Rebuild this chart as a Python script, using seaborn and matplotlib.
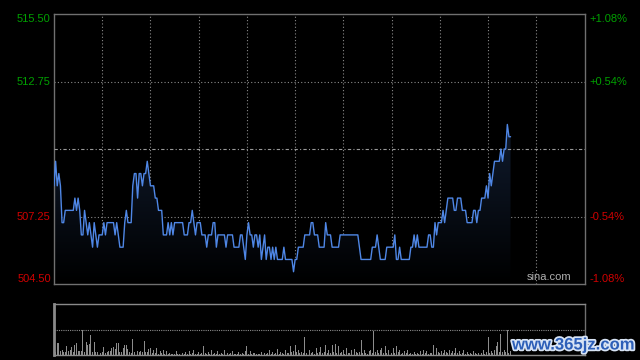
import numpy as np
import pandas as pd
import matplotlib
matplotlib.use('Agg')
import matplotlib.pyplot as plt
import matplotlib.patheffects as pe
from matplotlib.colors import LinearSegmentedColormap
import seaborn as sns

# minute-by-minute price (HK session, 330 minutes, data up to minute 284)
prices = [
    508.5, 509.5, 508.5, 509.0, 508.5, 507.0, 507.0, 507.5, 507.5, 507.5,
    507.5, 507.5, 507.5, 508.0, 507.5, 508.0, 507.5, 506.5, 506.5, 507.5,
    507.0, 506.5, 507.0, 506.5, 506.0, 507.0, 506.5, 506.0, 506.5, 506.5,
    506.5, 507.0, 506.5, 507.0, 507.0, 507.0, 507.0, 507.0, 506.5, 507.0,
    506.5, 506.0, 506.0, 506.0, 507.0, 507.5, 507.0, 507.0, 507.0, 508.5,
    509.0, 509.0, 508.0, 509.0, 509.0, 508.5, 509.0, 509.0, 509.5, 509.0,
    508.5, 508.5, 508.5, 508.0, 508.0, 507.5, 507.5, 507.5, 506.5, 506.5,
    506.5, 507.0, 506.5, 507.0, 506.5, 507.0, 507.0, 507.0, 507.0, 507.0,
    507.0, 506.5, 506.5, 506.5, 507.0, 507.0, 507.5, 507.0, 506.5, 507.0,
    507.0, 507.0, 506.5, 506.5, 506.5, 506.0, 506.5, 506.5, 506.5, 507.0,
    507.0, 506.0, 506.5, 506.5, 506.5, 506.5, 506.5, 506.0, 506.5, 506.5,
    506.5, 506.5, 506.0, 506.0, 506.0, 506.0, 506.5, 506.5, 506.0, 505.5,
    506.5, 507.0, 506.5, 506.5, 506.0, 506.5, 506.5, 506.0, 506.5, 505.5,
    506.0, 506.5, 505.5, 506.0, 506.0, 505.5, 506.0, 505.5, 506.0, 505.5,
    505.5, 505.5, 505.5, 506.0, 505.5, 505.5, 505.5, 505.5, 505.5, 505.0,
    505.5, 505.5, 506.0, 506.0, 506.0, 506.0, 506.5, 506.5, 506.5, 506.5,
    507.0, 507.0, 506.5, 506.5, 506.5, 506.0, 506.0, 506.0, 506.0, 507.0,
    506.5, 506.5, 506.5, 506.0, 506.0, 506.0, 506.0, 506.0, 506.5, 506.5,
    506.5, 506.5, 506.5, 506.5, 506.5, 506.5, 506.5, 506.5, 506.5, 506.5,
    506.0, 505.5, 505.5, 505.5, 505.5, 505.5, 505.5, 505.5, 506.0, 506.0,
    506.0, 506.5, 506.0, 505.5, 505.5, 505.5, 505.5, 506.0, 506.0, 506.0,
    506.0, 506.0, 506.5, 505.5, 505.5, 506.0, 505.5, 505.5, 505.5, 505.5,
    505.5, 505.5, 506.0, 506.0, 506.5, 506.0, 506.5, 506.0, 506.0, 506.0,
    506.0, 506.0, 506.0, 506.5, 506.5, 506.0, 506.0, 507.0, 506.5, 507.0,
    507.0, 507.0, 507.5, 507.0, 507.5, 508.0, 508.0, 508.0, 508.0, 507.5,
    507.5, 508.0, 508.0, 508.0, 507.5, 507.5, 507.5, 507.0, 507.0, 507.0,
    507.0, 507.5, 507.5, 507.0, 507.5, 507.5, 508.0, 508.0, 508.0, 508.5,
    508.0, 509.0, 508.5, 509.0, 509.5, 509.5, 509.5, 509.5, 510.0, 509.5,
    510.0, 510.0, 511.0, 510.5, 510.5,
]

volumes = [
    15, 10, 49, 49, 17, 20, 13, 10, 36, 17,
    20, 33, 12, 40, 47, 16, 17, 16, 100, 13,
    53, 40, 43, 80, 12, 52, 12, 12, 12, 8,
    12, 33, 8, 13, 17, 17, 27, 31, 23, 49,
    47, 13, 12, 26, 39, 40, 25, 11, 8, 64,
    13, 11, 15, 12, 14, 13, 56, 11, 10, 23,
    27, 8, 21, 6, 27, 5, 14, 6, 18, 5,
    14, 4, 6, 3, 5, 4, 14, 3, 5, 4,
    8, 3, 10, 5, 14, 4, 6, 18, 5, 4,
    10, 5, 8, 36, 6, 4, 12, 5, 18, 4,
    8, 5, 14, 3, 6, 4, 21, 5, 8, 4,
    6, 14, 3, 5, 4, 10, 4, 6, 3, 14,
    34, 5, 14, 4, 6, 8, 4, 5, 3, 13,
    5, 8, 4, 6, 18, 5, 10, 4, 8, 23,
    5, 12, 6, 4, 18, 6, 8, 34, 10, 14,
    39, 12, 21, 8, 10, 6, 71, 8, 23, 18,
    6, 10, 5, 27, 8, 12, 30, 6, 10, 40,
    8, 18, 6, 40, 12, 44, 6, 34, 8, 10,
    18, 5, 27, 8, 6, 21, 5, 23, 10, 6,
    12, 60, 8, 21, 6, 5, 14, 18, 8, 96,
    10, 21, 6, 18, 27, 8, 34, 6, 18, 27,
    8, 27, 6, 34, 10, 21, 5, 8, 17, 6,
    18, 5, 8, 4, 10, 5, 6, 4, 14, 5,
    21, 6, 14, 5, 8, 6, 39, 8, 27, 10,
    6, 14, 8, 21, 10, 6, 21, 8, 14, 6,
    27, 8, 14, 5, 6, 21, 5, 10, 4, 6,
    5, 14, 6, 4, 8, 27, 6, 18, 5, 10,
    73, 8, 14, 6, 21, 34, 53, 10, 83, 12,
    18, 10, 100, 8, 14,
]

prev_close = 510.0
price_ticks = [515.50, 512.75, 507.25, 504.50]
pct_labels = ['+1.08%', '+0.54%', '-0.54%', '-1.08%']
session_minutes = 330

df = pd.DataFrame({'minute': np.arange(len(prices)), 'price': prices, 'volume': volumes})

sns.set_theme(style='dark', rc={
    'figure.facecolor': 'black', 'axes.facecolor': 'black',
    'axes.edgecolor': '#707070', 'axes.linewidth': 1.0,
})
plt.rcParams['font.family'] = ['Liberation Sans', 'DejaVu Sans']

fig = plt.figure(figsize=(6.4, 3.6), dpi=100)
ax = fig.add_axes([54 / 640, 1 - 284 / 360, 530.5 / 640, 270 / 360])
axv = fig.add_axes([54 / 640, 1 - 355 / 360, 530.5 / 640, 51 / 360])

# price line with dark gradient fill
sns.lineplot(data=df, x='minute', y='price', ax=ax, color='#4f87e6', lw=1.0, zorder=4)
ymin, ymax = price_ticks[-1], price_ticks[0]
poly = ax.fill_between(df['minute'], df['price'], ymin, color='none', lw=0)
cmap = LinearSegmentedColormap.from_list('g', ['#000000', '#101b2e'])
grad = ax.imshow(np.linspace(0, 1, 100).reshape(-1, 1), cmap=cmap, aspect='auto',
                 origin='lower', extent=[0, len(prices) - 1, ymin, max(prices)], zorder=2)
grad.set_clip_path(poly.get_paths()[0], transform=ax.transData)

ax.set_xlim(0, session_minutes)
ax.set_ylim(ymin, ymax)
for m in range(30, session_minutes, 30):
    ax.axvline(m, color='#8a8a8a', lw=0.8, ls=(0, (1, 2)), zorder=1)
for v in price_ticks[1:3]:
    ax.axhline(v, color='#8a8a8a', lw=0.8, ls=(0, (1, 2)), zorder=1)
ax.axhline(prev_close, color='#9a9a9a', lw=0.8, ls=(0, (3, 2, 1, 2)), zorder=3)
ax.set_xticks([])
ax.set_yticks([])
ax.set_xlabel('')
ax.set_ylabel('')

vas = ['top', 'center', 'center', 'bottom']
for v, pl, va in zip(price_ticks, pct_labels, vas):
    col = '#00a000' if v > prev_close else '#d00000'
    ax.text(-0.006, v, f'{v:.2f}', transform=ax.get_yaxis_transform(), ha='right',
            va=va, color=col, fontsize=8)
    ax.text(1.010, v, pl, transform=ax.get_yaxis_transform(), ha='left',
            va=va, color=col, fontsize=8)
ax.text(0.975, 504.6, 'sina.com', transform=ax.get_yaxis_transform(), ha='right',
        va='bottom', color='#b0b0b0', fontsize=8)

# volume panel
axv.bar(df['minute'], df['volume'], width=0.6, color='#8c8c8c', linewidth=0)
axv.set_xlim(0, session_minutes)
axv.set_ylim(0, 202)
axv.axhline(100, color='#8a8a8a', lw=0.8, ls=(0, (1, 1)))
axv.set_xticks([])
axv.set_yticks([])
for s in ['top', 'bottom']:
    axv.spines[s].set_linestyle((0, (1, 1)))
    axv.spines[s].set_color('#8a8a8a')
axv.spines['left'].set_linewidth(2.0)
axv.spines['left'].set_color('#8a8a8a')

fig.text(634 / 640, 1 - 345 / 360, 'www.365jz.com', ha='right', va='center',
         color='#2d5fb8', fontsize=12, fontweight='bold',
         path_effects=[pe.withStroke(linewidth=2.5, foreground='#d8e4f5')])

fig.savefig('out.png', dpi=100, facecolor='black')
